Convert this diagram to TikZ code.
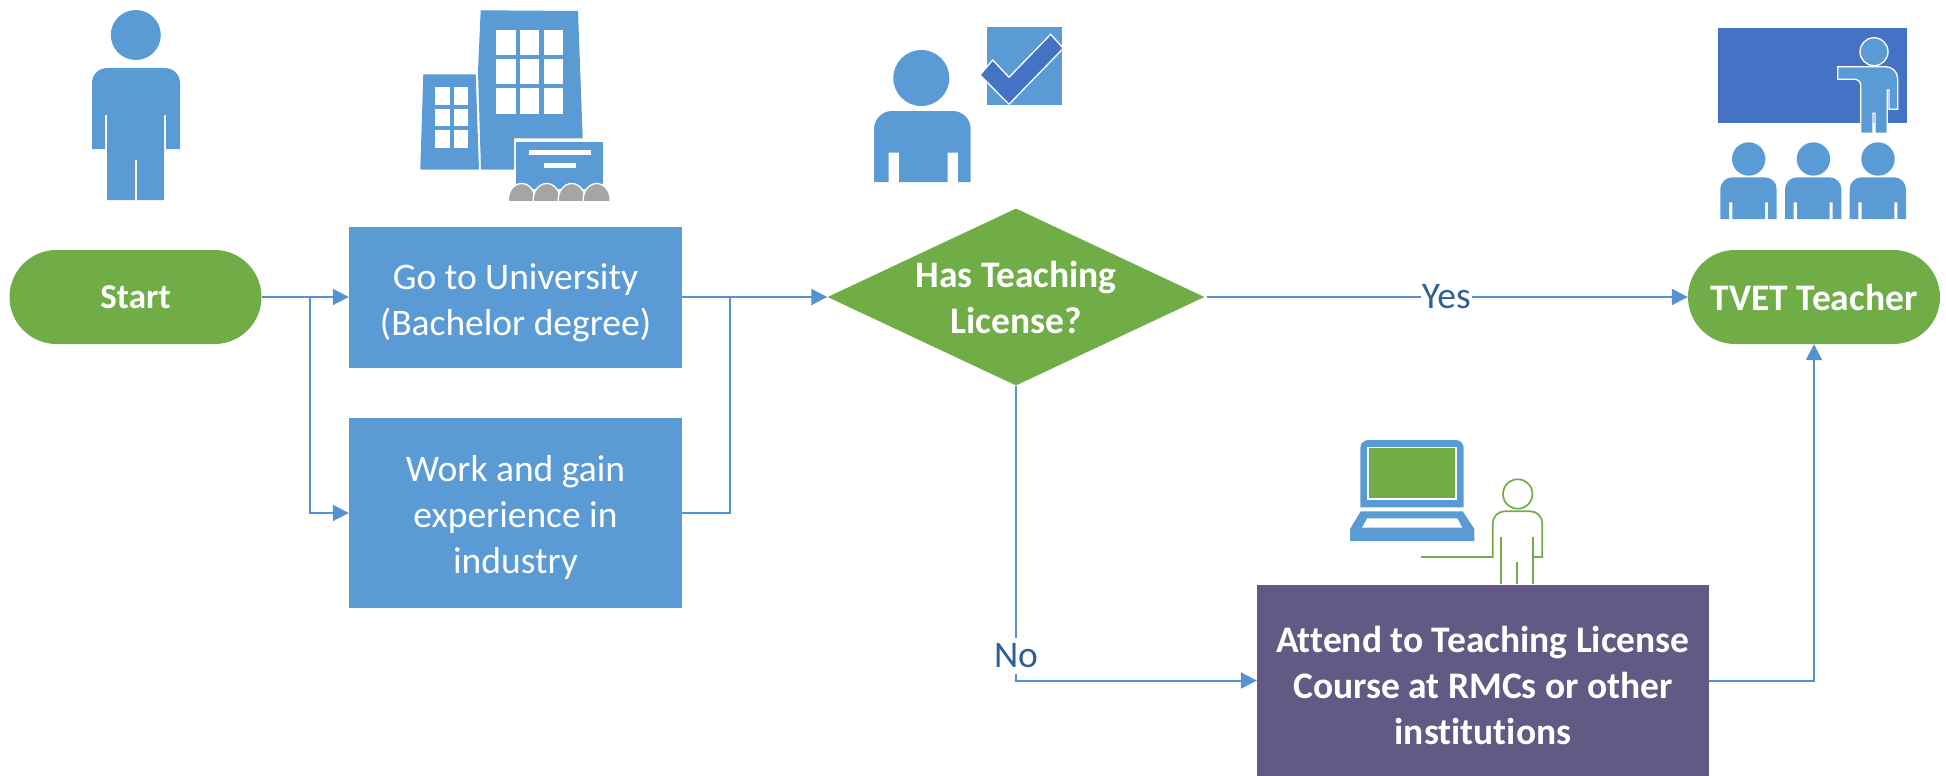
\documentclass[tikz,border=0pt]{standalone}
\usepackage{fontspec}
\setmainfont{Carlito}[Ligatures=NoCommon]
\usetikzlibrary{arrows.meta,positioning,shapes.geometric}
\definecolor{iconblue}{HTML}{5B9BD5}
\definecolor{darkblue}{HTML}{4472C4}
\definecolor{boxgreen}{HTML}{70AD47}
\definecolor{boxpurple}{HTML}{635985}
\definecolor{linkblue}{HTML}{5592CF}
\definecolor{labelblue}{HTML}{2F6095}
\definecolor{signgray}{HTML}{A5A5A5}
\newcommand{\lowered}[1]{\rule{0pt}{#1}}
\tikzset{flow/.style={%
  ->,
  line width=2pt,
  draw=linkblue,
  >={Triangle[length=16pt,width=16pt]},
  }
}
\tikzset{stepbox/.style={%
  inner sep=0pt,
  anchor=center,
  align=center,
  text=white,
  fill=iconblue,
  font=\fontsize{37.5}{46}\selectfont,
  }
}
\tikzset{pill/.style={%
  stepbox,
  fill=boxgreen,
  font=\fontsize{37.5}{46}\selectfont\bfseries,
  rounded corners=47pt,
  minimum height=94pt,
  }
}
\tikzset{answer/.style={%
  fill=white,
  inner xsep=1pt,
  inner ysep=6pt,
  text=labelblue,
  font=\fontsize{37.5}{40}\selectfont,
  }
}
\tikzset{iconedge/.style={draw=white,line width=1.3pt}}

\begin{document}
\begin{tikzpicture}[x=1pt,y=-1pt]
  \useasboundingbox (0,0) rectangle (1946,776);

  % flow chart
  \node (start) [pill, minimum width=252pt, font=\fontsize{35}{46}\selectfont\bfseries] at (135.5,297) {Start};
  \node (university) [stepbox, right of=start, node distance=380pt, minimum width=333pt, minimum height=141pt] {\lowered{38pt}Go to University\\(Bachelor degree)};
  \node (industry) [stepbox, below of=university, node distance=216pt, minimum width=333pt, minimum height=190pt] {\lowered{36pt}Work and gain\\experience in\\industry};
  \node (license) [stepbox, diamond, right of=university, node distance=500.5pt, fill=boxgreen, shape aspect=2.13, minimum width=377pt, minimum height=177pt, font=\fontsize{37.5}{46}\selectfont\bfseries] {Has Teaching\\License?};
  \node (teacher) [pill, right of=license, node distance=798pt, minimum width=252pt] {TVET Teacher};
  \node (course) [stepbox, fill=boxpurple, minimum width=452pt, minimum height=191pt, font=\fontsize{37.5}{46}\selectfont\bfseries] at (1483,680.5) {\lowered{36pt}Attend to Teaching License\\Course at RMCs or other\\institutions};

  \coordinate (tmp1) at (310,297);
  \coordinate (tmp2) at (730,297);

  \draw [flow] (start) -- (university);
  \draw [flow] (tmp1) |- (industry);
  \draw [flow] (university) -- (license);
  \draw [flow, -] (industry) -| (tmp2);
  \draw [flow, shorten <=2pt] (license) -- node [answer, pos=0.5] (yes) {Yes} (teacher);
  \draw [flow] (license) |- node [answer, pos=0.458] (no) {No} (course);
  \draw [flow] (course) -| (teacher);

  % person above start
  \fill [iconblue] (135.8,35) circle (25);
  \fill [iconblue] (92,149) [rounded corners=15pt] -- (92,68) -- (180,68) [sharp corners] -- (180,149) -- (166,149) -- (166,115) -- (164,115) -- (164,200) -- (137,200) -- (137,160) -- (135,160) -- (135,200) -- (107,200) -- (107,115) -- (105,115) -- (105,149) -- cycle;

  % buildings
  \fill [iconblue] (423.3,74.3) -- (475.7,74.3) -- (479,169.7) -- (420.3,169.7) -- cycle;
  \fill [iconblue] (480.7,10.3) -- (578,11) -- (582.7,138.3) -- (514,138.3) -- (514,169.7) -- (481,169.7) -- (478,71.7) -- cycle;
  \foreach \x in {435,453.7}
    \foreach \y in {87.3,108.7,130}
      \fill [white] (\x,\y) rectangle +(14.7,17.7);
  \foreach \x in {496.3,520,543.7}
    \foreach \y in {29.7,59,88.3}
      \fill [white] (\x,\y) rectangle +(19.4,25.4);
  \fill [iconblue, iconedge] (515.3,141) rectangle (603.3,190);
  \fill [white] (528.7,150.3) rectangle (591.3,155.3);
  \fill [white] (544.3,163) rectangle (575.7,168);
  \begin{scope}
    \clip (500,180) rectangle (615,200);
    \foreach \x in {521.7,546.7,571.7,596.7}
      \fill [signgray, iconedge] (\x,200) ellipse [x radius=13.5, y radius=16.5];
  \end{scope}

  % person with check mark
  \fill [iconblue] (921.3,78) circle (28);
  \fill [iconblue] (874,182) [rounded corners=18pt] -- (874,111) -- (970.7,111) [sharp corners] -- (970.7,182) -- (958,182) -- (958,152.7) -- (947.7,152.7) -- (947.7,182) -- (899,182) -- (899,152.7) -- (888.7,152.7) -- (888.7,182) -- cycle;
  \fill [iconblue] (987,27) rectangle (1062,104.7);
  \fill [darkblue, iconedge] (980,75) -- (992.7,60) -- (1009,77.3) -- (1050.7,34.3) -- (1063.3,48.3) -- (1009,104.3) -- cycle;

  % class room
  \fill [darkblue] (1718.3,28.3) rectangle (1907.3,123);
  \fill [iconblue, iconedge] (1874,51.7) circle (14);
  \fill [iconblue, iconedge] (1837.7,66.7) [rounded corners=12pt] -- (1897.7,66.7) [sharp corners] -- (1897.7,109.3) -- (1889,109.3) -- (1889,90) -- (1887.3,90) -- (1887.3,133.3) -- (1875,133.3) -- (1875,113.3) -- (1873,113.3) -- (1873,133.3) -- (1860.7,133.3) [rounded corners=6pt] -- (1860.7,79.3) [sharp corners] -- (1837.7,79.3) -- cycle;
  \foreach \x in {0,64.7,129.3} {
    \fill [iconblue] (1748.7+\x,159) circle (16.7);
    \fill [iconblue] (1720.3+\x,219) [rounded corners=12pt] -- (1720.3+\x,177.3) -- (1776.7+\x,177.3) [sharp corners] -- (1776.7+\x,219) -- (1768+\x,219) -- (1768+\x,202.3) -- (1765+\x,202.3) -- (1765+\x,219) -- (1732.3+\x,219) -- (1732.3+\x,202.3) -- (1729+\x,202.3) -- (1729+\x,219) -- cycle;
  }

  % laptop and student
  \fill [iconblue] (1360.3,507.3) [rounded corners=8pt] -- (1360.3,440) -- (1463.7,440) [sharp corners] -- (1463.7,507.3) -- cycle;
  \fill [boxgreen, iconedge] (1368,447.7) rectangle (1456,499);
  \fill [iconblue] (1360.7,511.3) -- (1462.7,511.3) -- (1474.3,529) -- (1474.3,541) -- (1350,541) -- (1350,529) -- cycle;
  \fill [white] (1367.3,518.3) -- (1457.3,518.3) -- (1462.3,527.7) -- (1362,527.7) -- cycle;
  \draw [boxgreen, line width=1.7pt] (1517.7,494) circle (14.7);
  \draw [boxgreen, line width=1.7pt] (1421,557) -- (1492.7,557) [rounded corners=12pt] -- (1492.7,511.3) -- (1542.3,511.3) [sharp corners] -- (1542.3,557) -- (1533.3,557);
  \draw [boxgreen, line width=1.7pt] (1501,537.3) -- (1501,584);
  \draw [boxgreen, line width=1.7pt] (1533.3,537.3) -- (1533.3,584);
  \draw [boxgreen, line width=1.7pt] (1517.3,562) -- (1517.3,584);
\end{tikzpicture}
\end{document}
